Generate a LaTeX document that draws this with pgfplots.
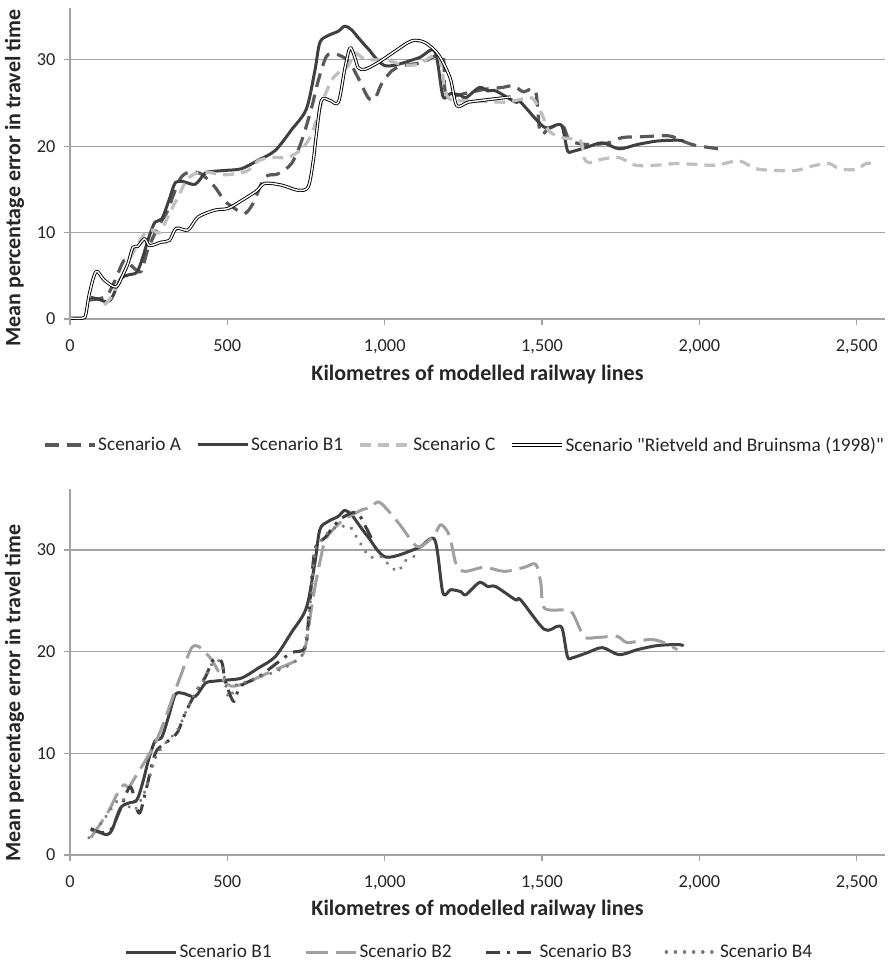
\documentclass[border=0pt]{standalone}
\usepackage{fontspec}
\setmainfont{Carlito}
\usepackage{pgfplots}
\pgfplotsset{compat=1.18}
\definecolor{cA}{HTML}{595959}
\definecolor{cB}{HTML}{404040}
\definecolor{cC}{HTML}{BFBFBF}
\definecolor{cB2}{HTML}{A0A0A0}
\definecolor{cB3}{HTML}{404040}
\definecolor{cB4}{HTML}{7A7A7A}
\definecolor{gridc}{HTML}{A3A3A3}
\definecolor{txt}{HTML}{262626}

\pgfplotstableread{
x y
66 2.5
90 2.3
117 2.0
134 2.5
160 4.6
185 5.1
212 5.4
230 7.0
250 9.4
270 11.2
292 11.6
315 13.8
335 15.8
360 15.9
398 15.6
430 16.9
460 17.1
493 17.2
545 17.4
599 18.4
652 19.5
704 21.9
751 24.3
778 28.7
794 32.0
820 32.8
852 33.3
873 33.9
894 33.5
920 32.4
947 31.3
1004 29.3
1106 30.2
1159 31.0
1185 25.8
1210 26.1
1242 25.9
1258 25.6
1301 26.8
1328 26.4
1353 26.4
1416 25.1
1432 25.1
1507 22.2
1549 22.5
1565 22.2
1581 19.5
1597 19.4
1644 19.9
1692 20.4
1745 19.7
1803 20.2
1866 20.6
1930 20.7
1950 20.6
}\tabBone

\pgfplotstableread{
x y
62 2.2
99 2.4
120 2.8
146 4.7
173 6.8
200 6.0
226 5.5
247 8.0
279 10.6
310 12.5
330 14.5
353 16.4
380 17.0
417 16.8
460 15.3
491 13.7
523 12.8
555 12.2
582 13.4
619 16.4
661 16.8
704 18.0
736 20.6
768 24.5
789 27.6
815 30.4
842 30.7
884 29.9
916 27.9
948 25.6
969 25.5
990 27.2
1022 28.7
1054 29.3
1118 29.7
1171 30.6
1187 30.3
1192 26.4
1213 25.8
1266 26.2
1320 26.6
1373 26.8
1410 27.0
1440 26.3
1479 26.4
1494 21.6
1520 22.0
1542 22.4
1569 22.2
1585 20.8
1617 20.3
1660 20.2
1712 20.4
1755 21.0
1818 21.1
1903 21.2
1946 20.6
1988 20.1
2062 19.7
}\tabA

\pgfplotstableread{
x y
109 1.6
130 2.5
157 4.3
194 7.2
237 9.9
263 10.3
285 10.0
316 12.2
343 14.1
369 16.0
396 16.8
438 17.0
480 16.7
523 16.8
566 17.2
598 18.3
640 18.7
693 18.7
736 19.7
768 21.4
799 24.9
831 27.6
853 28.5
884 29.3
905 30.8
937 30.1
1012 29.9
1060 29.4
1108 29.5
1171 30.5
1192 26.4
1213 25.3
1256 25.3
1320 25.2
1383 25.1
1430 25.4
1468 25.6
1500 23.7
1521 21.8
1564 21.0
1622 20.6
1633 18.7
1649 18.1
1691 18.5
1744 18.7
1797 17.8
1861 17.8
1925 18.0
1988 17.9
2052 17.8
2126 18.3
2179 17.4
2243 17.2
2307 17.2
2370 17.8
2413 18.0
2445 17.4
2498 17.3
2530 18.0
2562 18.0
}\tabC

\pgfplotstableread{
x y
3 0.1
40 0.1
50 0.5
62 3.0
83 5.5
109 4.5
146 3.7
168 5.1
184 6.4
200 8.3
215 8.4
237 9.3
253 8.5
290 8.9
316 9.1
338 10.5
375 10.3
407 11.8
460 12.6
502 12.8
545 13.7
592 14.8
619 15.7
672 15.5
725 14.9
757 15.3
773 18.3
783 21.4
799 25.3
826 25.3
853 25.1
874 29.1
890 31.4
905 30.3
916 29.1
937 28.9
980 29.7
1033 31.0
1086 32.2
1128 32.0
1171 30.6
1208 27.9
1229 24.7
1266 25.1
1330 25.4
1400 25.7
}\tabR

\pgfplotstableread{
x y
66 1.7
95 3.0
124 4.4
150 6.0
171 6.9
187 6.7
210 7.8
240 9.3
271 11.0
300 13.2
324 15.3
355 17.9
387 20.4
414 20.4
450 19.2
488 17.2
513 16.6
557 16.9
600 17.5
650 18.2
704 18.9
735 19.5
751 20.9
773 25.4
798 29.4
815 31.2
862 32.8
905 33.6
932 34.0
957 34.2
984 34.7
1043 32.7
1100 30.4
1132 30.7
1160 31.6
1179 32.5
1206 31.4
1227 28.6
1254 27.9
1317 28.3
1380 27.9
1444 28.3
1480 28.6
1496 26.8
1507 24.3
1571 24.1
1597 23.8
1634 21.5
1676 21.4
1739 21.5
1771 20.9
1844 21.2
1887 20.9
1930 20.2
}\tabBtwo

\pgfplotstableread{
x y
66 2.6
100 2.2
130 2.5
160 4.5
192 6.7
219 4.1
240 6.2
271 10.0
303 11.0
340 12.0
367 14.0
398 15.9
430 17.5
456 19.2
482 19.0
493 17.2
520 15.1
541 16.6
599 17.5
650 18.7
704 19.9
747 20.4
760 24.0
778 30.0
810 31.2
858 33.0
910 33.7
941 32.2
960 31.0
}\tabBthree

\pgfplotstableread{
x y
60 1.7
101 3.2
139 4.9
165 5.6
203 4.4
240 6.4
271 9.5
303 11.0
340 12.2
367 14.0
398 16.0
428 17.3
456 19.0
482 18.8
504 15.5
530 16.8
557 17.0
600 17.5
650 18.0
704 18.8
740 19.8
755 22.5
767 25.8
779 30.0
800 31.0
830 32.0
860 32.3
889 32.3
910 31.3
932 30.2
954 29.3
986 29.4
1012 28.6
1043 27.9
1064 28.9
1095 29.4
1110 29.6
}\tabBfour

\newcommand{\labfont}{\fontsize{22}{26}\selectfont\bfseries}
\pgfplotsset{
  mystyle/.style={
    scale only axis, width=815pt,
    xmin=0, xmax=2590, ymin=0, ymax=36,
    xtick={0,500,1000,1500,2000,2500}, ytick={0,10,20,30},
    axis x line*=bottom, axis y line*=left,
    axis line style={-, draw=gridc, line width=1.3pt},
    ymajorgrids, grid style={draw=gridc, line width=1.3pt},
    tick align=outside, major tick length=6pt,
    tick style={draw=gridc, line width=1.3pt},
    /pgf/number format/assume math mode=true,
    /pgf/number format/1000 sep={,},
    ticklabel style={font=\fontsize{18.3}{20}\selectfont, text=txt},
    xticklabel style={yshift=-11pt},
    yticklabel style={xshift=-5pt},
    legend style={draw=none, font=\fontsize{19.3}{21}\selectfont, text=txt,
      legend columns=4, anchor=center, legend cell align=left,
      nodes={inner xsep=2pt, inner ysep=1pt}},
    legend image code/.code={\draw[##1] (0pt,0pt) -- (50pt,0pt);},
    every axis plot/.append style={smooth, tension=0.5, line join=round},
  }
}

\begin{document}
\begin{tikzpicture}
\path[use as bounding box] (0,0) rectangle (890pt,-961pt);

\begin{axis}[mystyle,
  at={(70pt,-319pt)}, anchor=south west, height=311pt,
  xlabel={Kilometres of modelled railway lines},
  ylabel={Mean percentage error in travel time},
  every axis x label/.style={at={(axis description cs:0.5,-0.177)}, anchor=center, font=\labfont, text=txt},
  every axis y label/.style={at={(axis description cs:-0.068,0.453)}, rotate=90, anchor=center, font=\labfont, text=txt},
  legend style={at={(axis description cs:0.484,-0.405)},
    /tikz/every even column/.append style={column sep=13pt}},
]
\addplot[draw=cA, line width=3.2pt, dash pattern=on 14pt off 8pt] table[x=x,y=y]{\tabA};
\addlegendentry{Scenario A}
\addplot[draw=cB, line width=3pt] table[x=x,y=y]{\tabBone};
\addlegendentry{Scenario B1}
\addplot[draw=cC, line width=3.2pt, dash pattern=on 11pt off 7pt] table[x=x,y=y]{\tabC};
\addlegendentry{Scenario C}
\addplot[draw=black, line width=0.9pt, double=white, double distance=1.4pt] table[x=x,y=y]{\tabR};
\addlegendentry{Scenario \textquotedbl Rietveld and Bruinsma (1998)\textquotedbl}
\end{axis}

\begin{axis}[mystyle,
  at={(70pt,-855pt)}, anchor=south west, height=366pt,
  xlabel={Kilometres of modelled railway lines},
  ylabel={Mean percentage error in travel time},
  every axis x label/.style={at={(axis description cs:0.5,-0.150)}, anchor=center, font=\labfont, text=txt},
  every axis y label/.style={at={(axis description cs:-0.068,0.443)}, rotate=90, anchor=center, font=\labfont, text=txt},
  legend style={at={(axis description cs:0.49,-0.265)},
    /tikz/every even column/.append style={column sep=31pt}},
]
\addplot[draw=cB, line width=3pt] table[x=x,y=y]{\tabBone};
\addlegendentry{Scenario B1}
\addplot[draw=cB2, line width=3pt, dash pattern=on 22pt off 8pt] table[x=x,y=y]{\tabBtwo};
\addlegendentry{Scenario B2}
\addplot[draw=cB3, line width=3pt, dash pattern=on 14pt off 7pt on 3pt off 7pt] table[x=x,y=y]{\tabBthree};
\addlegendentry{Scenario B3}
\addplot[draw=cB4, line width=3.5pt, line cap=round, dash pattern=on 0.1pt off 9pt] table[x=x,y=y]{\tabBfour};
\addlegendentry{Scenario B4}
\end{axis}
\end{tikzpicture}
\end{document}
